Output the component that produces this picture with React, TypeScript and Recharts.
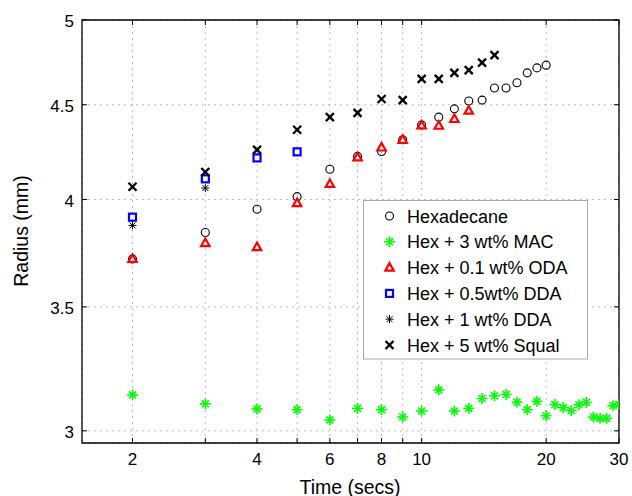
import {
  CartesianGrid,
  ReferenceArea,
  Scatter,
  ScatterChart,
  XAxis,
  YAxis,
} from "recharts";

const W = 632;
const H = 496;
const M_TOP = 20;
const M_RIGHT = 13;
const Y_AXIS_W = 82;
const X_AXIS_H = 53;
const PLOT_TOP = M_TOP;
const PLOT_RIGHT = W - M_RIGHT;

const FONT = "'Liberation Sans', Arial, Helvetica, sans-serif";

// Axis setup (log-log)
const X_DOMAIN = [1.51, 30];
const Y_DOMAIN = [2.955, 5];
const X_TICKS = [2, 3, 4, 5, 6, 7, 8, 9, 10, 20, 30];
const X_LABELS = [2, 4, 6, 8, 10, 20, 30];
const Y_TICKS = [3, 3.5, 4, 4.5, 5];

// Hexadecane
const T_HEX = [2, 3, 4, 5, 6, 7, 8, 9, 10, 11, 12, 13, 14, 15, 16, 17, 18, 19, 20];
const R_HEX = [
  3.715, 3.839, 3.952, 4.014, 4.153, 4.22, 4.246, 4.308, 4.388, 4.431, 4.477,
  4.521, 4.526, 4.595, 4.595, 4.625, 4.682, 4.711, 4.727,
];

// Hex + 3 wt% MAC
const T_MAC = [
  2, 3, 4, 5, 6, 7, 8, 9, 10, 11, 12, 13, 14, 15, 16, 17, 18, 19, 20, 21, 22,
  23, 24, 25, 26, 27, 28, 29, 30,
];
const R_MAC = [
  3.137, 3.103, 3.083, 3.08, 3.041, 3.085, 3.08, 3.052, 3.075, 3.157, 3.075,
  3.085, 3.123, 3.134, 3.139, 3.109, 3.08, 3.112, 3.057, 3.1, 3.088, 3.077,
  3.099, 3.108, 3.052, 3.047, 3.047, 3.095, 3.1,
];

// Hex + 0.1 wt% ODA
const T_ODA = [2, 3, 4, 5, 6, 7, 8, 9, 10, 11, 12, 13];
const R_ODA = [3.715, 3.789, 3.77, 3.982, 4.078, 4.215, 4.267, 4.308, 4.386, 4.384, 4.421, 4.467];

// Hex + 0.5wt% DDA
const T_DDA05 = [2, 3, 4, 5];
const R_DDA05 = [3.913, 4.104, 4.212, 4.244];

// Hex + 1 wt% DDA
const T_DDA1 = [2, 3];
const R_DDA1 = [3.873, 4.057];

// Hex + 5 wt% Squal
const T_SQ = [2, 3, 4, 5, 6, 7, 8, 9, 10, 11, 12, 13, 14, 15];
const R_SQ = [4.064, 4.139, 4.255, 4.362, 4.431, 4.455, 4.532, 4.526, 4.647, 4.647, 4.682, 4.698, 4.742, 4.786];

const pts = (ts: number[], rs: number[]) => ts.map((t, i) => ({ t, r: rs[i] }));

type Kind = "circle" | "greenStar" | "triangle" | "square" | "star" | "cross";

function Marker({ kind, cx, cy }: { kind: Kind; cx: number; cy: number }) {
  if (cx == null || cy == null) return null;
  switch (kind) {
    case "circle":
      return <circle cx={cx} cy={cy} r={4} fill="none" stroke="#000" strokeWidth={1.1} />;
    case "greenStar":
      return (
        <g stroke="#00ff00" strokeWidth={1.6}>
          <line x1={cx - 5.5} x2={cx + 5.5} y1={cy} y2={cy} />
          <line x1={cx} x2={cx} y1={cy - 5.5} y2={cy + 5.5} />
          <line x1={cx - 3.5} x2={cx + 3.5} y1={cy - 3.5} y2={cy + 3.5} />
          <line x1={cx - 3.5} x2={cx + 3.5} y1={cy + 3.5} y2={cy - 3.5} />
        </g>
      );
    case "triangle":
      return (
        <polygon
          points={`${cx},${cy - 4.5} ${cx - 4.2},${cy + 3} ${cx + 4.2},${cy + 3}`}
          fill="#fff"
          stroke="#ff0000"
          strokeWidth={2.2}
        />
      );
    case "square":
      return (
        <rect x={cx - 3.5} y={cy - 3.5} width={7} height={7} fill="#fff" stroke="#0000ff" strokeWidth={2.2} />
      );
    case "star":
      return (
        <g stroke="#000" strokeWidth={1}>
          <line x1={cx - 4} x2={cx + 4} y1={cy} y2={cy} />
          <line x1={cx} x2={cx} y1={cy - 4} y2={cy + 4} />
          <line x1={cx - 3} x2={cx + 3} y1={cy - 3} y2={cy + 3} />
          <line x1={cx - 3} x2={cx + 3} y1={cy + 3} y2={cy - 3} />
        </g>
      );
    case "cross":
      return (
        <g stroke="#000" strokeWidth={2.3}>
          <line x1={cx - 4} x2={cx + 4} y1={cy - 4} y2={cy + 4} />
          <line x1={cx - 4} x2={cx + 4} y1={cy + 4} y2={cy - 4} />
        </g>
      );
  }
  return null;
}

const SERIES: { name: string; kind: Kind; data: { t: number; r: number }[] }[] = [
  { name: "Hexadecane", kind: "circle", data: pts(T_HEX, R_HEX) },
  { name: "Hex + 3 wt% MAC", kind: "greenStar", data: pts(T_MAC, R_MAC) },
  { name: "Hex + 0.1 wt% ODA", kind: "triangle", data: pts(T_ODA, R_ODA) },
  { name: "Hex + 0.5wt% DDA", kind: "square", data: pts(T_DDA05, R_DDA05) },
  { name: "Hex + 1 wt% DDA", kind: "star", data: pts(T_DDA1, R_DDA1) },
  { name: "Hex + 5 wt% Squal", kind: "cross", data: pts(T_SQ, R_SQ) },
];

function XTick(props: any) {
  const { x, y, payload } = props;
  const v = payload.value;
  return (
    <g>
      <line x1={x} x2={x} y1={y} y2={y - 5} stroke="#000" />
      <line x1={x} x2={x} y1={PLOT_TOP} y2={PLOT_TOP + 5} stroke="#000" />
      {X_LABELS.includes(v) && (
        <text x={x} y={y + 21.5} textAnchor="middle" fontSize={17} fontFamily={FONT} fill="#000">
          {v}
        </text>
      )}
    </g>
  );
}

function YTick(props: any) {
  const { x, y, payload } = props;
  return (
    <g>
      <line x1={x} x2={x + 5} y1={y} y2={y} stroke="#000" />
      <line x1={PLOT_RIGHT - 5} x2={PLOT_RIGHT} y1={y} y2={y} stroke="#000" />
      <text x={x - 8} y={y + 7.3} textAnchor="end" fontSize={17} fontFamily={FONT} fill="#000">
        {String(payload.value)}
      </text>
    </g>
  );
}

export default function App() {
  return (
    <div style={{ position: "absolute", left: 0, top: 0, width: W, height: H, background: "#fff" }}>
      <ScatterChart
        width={W}
        height={H}
        margin={{ top: M_TOP, right: M_RIGHT, bottom: 0, left: 0 }}
      >
        <CartesianGrid stroke="#bdbdbd" strokeDasharray="2 4" />
        <XAxis
          dataKey="t"
          type="number"
          scale="log"
          domain={X_DOMAIN}
          allowDataOverflow
          ticks={X_TICKS}
          interval={0}
          height={X_AXIS_H}
          tickSize={0}
          tickMargin={0}
          axisLine={false}
          tick={<XTick />}
        />
        <YAxis
          dataKey="r"
          type="number"
          scale="log"
          domain={Y_DOMAIN}
          allowDataOverflow
          ticks={Y_TICKS}
          interval={0}
          width={Y_AXIS_W}
          tickSize={0}
          tickMargin={0}
          axisLine={false}
          tick={<YTick />}
        />
        <ReferenceArea
          x1={X_DOMAIN[0]}
          x2={X_DOMAIN[1]}
          y1={Y_DOMAIN[0]}
          y2={Y_DOMAIN[1]}
          fill="none"
          stroke="#000"
          strokeWidth={1.3}
          fillOpacity={0}
        />
        {SERIES.map((s) => (
          <Scatter
            key={s.name}
            name={s.name}
            data={s.data}
            isAnimationActive={false}
            shape={(p: any) => <Marker kind={s.kind} cx={p.cx} cy={p.cy} />}
          />
        ))}
      </ScatterChart>

      <svg
        width={W}
        height={H}
        style={{ position: "absolute", left: 0, top: 0, pointerEvents: "none" }}
      >
        <text x={350} y={493.5} textAnchor="middle" fontSize={19.5} fontFamily={FONT} fill="#000">
          Time (secs)
        </text>
        <text
          x={21}
          y={231}
          textAnchor="middle"
          dominantBaseline="central"
          transform="rotate(-90, 21, 231)"
          fontSize={19.5}
          fontFamily={FONT}
          fill="#000"
        >
          Radius (mm)
        </text>
        <rect x={363.5} y={200.5} width={224} height={158.5} fill="#fff" stroke="#a8a8a8" />
        {SERIES.map((s, i) => {
          const cy = 216 + i * 25.8;
          return (
            <g key={s.name}>
              <Marker kind={s.kind} cx={389.5} cy={cy} />
              <text x={407} y={cy + 6.5} fontSize={18} fontFamily={FONT} fill="#000">
                {s.name}
              </text>
            </g>
          );
        })}
      </svg>
    </div>
  );
}
